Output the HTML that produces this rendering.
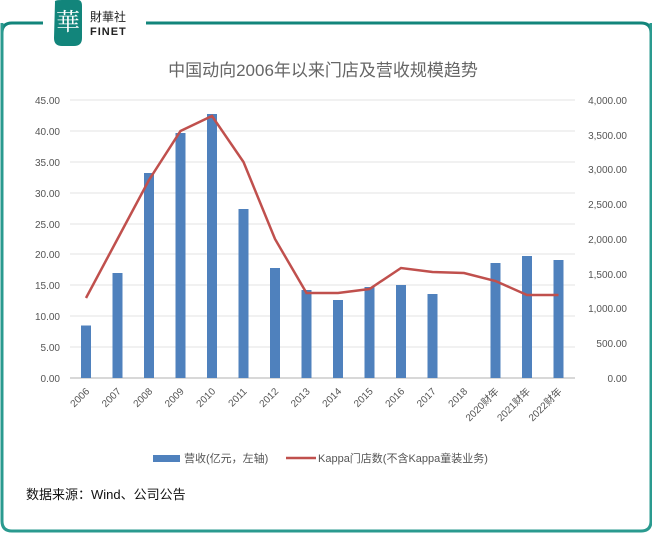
<!DOCTYPE html><html><head><meta charset="utf-8"><style>
body{margin:0;width:652px;height:552px;background:#fff;overflow:hidden;font-family:"Liberation Sans","Noto Sans CJK SC",sans-serif}
</style></head><body>
<svg width="652" height="552" xmlns="http://www.w3.org/2000/svg" font-family="Liberation Sans, Noto Sans CJK SC, sans-serif">
<path d="M43 23 H12 Q2 23 2 33 V164 M146 23 H641 Q651 23 651 33 V161 M651 161 V160" stroke="#12857b" stroke-width="3" fill="none"/>
<path d="M2 160 V162 M2 33 V160 V160" stroke="#12857b" stroke-width="3" fill="none"/>
<path d="M2 160 V162" stroke="#12857b" stroke-width="3"/>
<path d="M2 33 V162 V160" stroke="#12857b" stroke-width="3"/>
<path d="M2 33 V531 Q2 541 12 541 H641 Q651 541 651 531 V33" stroke="#2a9a8f" stroke-width="3" fill="none" transform="translate(0,-10)"/>
<path d="M55 2 Q54 0 62 0 H78 Q82 0 82 6 V38 Q82 46 74 46 H62 Q54 46 54 38 Z" fill="#12857b"/>
<text x="68" y="30" font-size="24" fill="#fff" text-anchor="middle" font-family="Noto Serif CJK SC, serif">華</text>
<text x="90" y="21" font-size="12" fill="#222">財華社</text>
<text x="90" y="35" font-size="11" font-weight="bold" fill="#222" letter-spacing="1">FINET</text>
<text x="323" y="76" font-size="17" fill="#666" text-anchor="middle">中国动向2006年以来门店及营收规模趋势</text>
<g stroke="#e3e3e3" stroke-width="1">
<line x1="70" x2="575" y1="100" y2="100"/><line x1="70" x2="575" y1="131" y2="131"/><line x1="70" x2="575" y1="162" y2="162"/><line x1="70" x2="575" y1="193" y2="193"/><line x1="70" x2="575" y1="224" y2="224"/><line x1="70" x2="575" y1="254" y2="254"/><line x1="70" x2="575" y1="285" y2="285"/><line x1="70" x2="575" y1="316" y2="316"/><line x1="70" x2="575" y1="347" y2="347"/><line x1="70" x2="575" y1="378" y2="378" stroke="#d8d8d8" stroke-width="2"/>
</g>
<g font-size="10" fill="#555" text-anchor="end">
<text x="60" y="104">45.00</text><text x="60" y="135">40.00</text><text x="60" y="166">35.00</text><text x="60" y="197">30.00</text><text x="60" y="228">25.00</text><text x="60" y="258">20.00</text><text x="60" y="289">15.00</text><text x="60" y="320">10.00</text><text x="60" y="351">5.00</text><text x="60" y="382">0.00</text>
</g>
<g font-size="10" fill="#555" text-anchor="end">
<text x="627" y="104">4,000.00</text><text x="627" y="139">3,500.00</text><text x="627" y="173">3,000.00</text><text x="627" y="208">2,500.00</text><text x="627" y="243">2,000.00</text><text x="627" y="278">1,500.00</text><text x="627" y="312">1,000.00</text><text x="627" y="347">500.00</text><text x="627" y="382">0.00</text>
</g>
<g fill="#4f81bd">
<rect x="81" y="325.5" width="10" height="52.5"/>
<rect x="112.5" y="273" width="10" height="105"/>
<rect x="144" y="173" width="10" height="205"/>
<rect x="175.5" y="133" width="10" height="245"/>
<rect x="207" y="114" width="10" height="264"/>
<rect x="238.5" y="209" width="10" height="169"/>
<rect x="270" y="268" width="10" height="110"/>
<rect x="301.5" y="290" width="10" height="88"/>
<rect x="333" y="300" width="10" height="78"/>
<rect x="364.5" y="287" width="10" height="91"/>
<rect x="396" y="285" width="10" height="93"/>
<rect x="427.5" y="294" width="10" height="84"/>
<rect x="490.5" y="263" width="10" height="115"/>
<rect x="522" y="256" width="10" height="122"/>
<rect x="553.5" y="260" width="10" height="118"/>
</g>
<polyline fill="none" stroke="#c0504d" stroke-width="2.5" points="86,298 117.5,239 149,180 180.5,131 212,116 243.5,162 275,239 306.5,293 338,293 369.5,289 401,268 432.5,272 464,273 495.5,281 527,295 558.5,295"/>
<g font-size="10" fill="#555" text-anchor="end">
<text transform="translate(90,392) rotate(-45)">2006</text>
<text transform="translate(121.5,392) rotate(-45)">2007</text>
<text transform="translate(153,392) rotate(-45)">2008</text>
<text transform="translate(184.5,392) rotate(-45)">2009</text>
<text transform="translate(216,392) rotate(-45)">2010</text>
<text transform="translate(247.5,392) rotate(-45)">2011</text>
<text transform="translate(279,392) rotate(-45)">2012</text>
<text transform="translate(310.5,392) rotate(-45)">2013</text>
<text transform="translate(342,392) rotate(-45)">2014</text>
<text transform="translate(373.5,392) rotate(-45)">2015</text>
<text transform="translate(405,392) rotate(-45)">2016</text>
<text transform="translate(436.5,392) rotate(-45)">2017</text>
<text transform="translate(468,392) rotate(-45)">2018</text>
<text transform="translate(499.5,392) rotate(-45)">2020财年</text>
<text transform="translate(531,392) rotate(-45)">2021财年</text>
<text transform="translate(562.5,392) rotate(-45)">2022财年</text>
</g>
<rect x="153" y="455" width="27" height="7" fill="#4f81bd"/>
<text x="184" y="462" font-size="11" fill="#555">营收(亿元，左轴)</text>
<line x1="286" x2="316" y1="458" y2="458" stroke="#c0504d" stroke-width="2.5"/>
<text x="318" y="462" font-size="11" fill="#555">Kappa门店数(不含Kappa童装业务)</text>
<text x="26" y="499" font-size="13" fill="#111">数据来源：Wind、公司公告</text>
</svg>
</body></html>
